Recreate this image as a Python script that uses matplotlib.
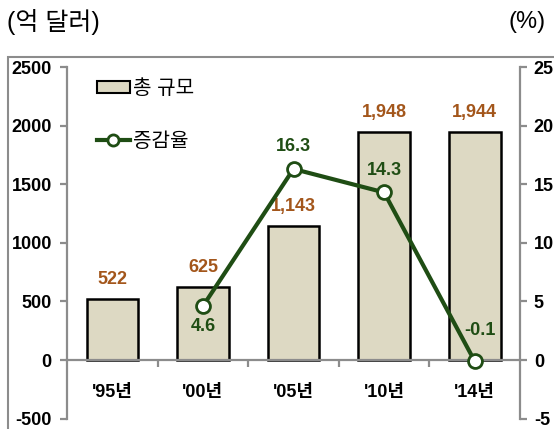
import numpy as np
import matplotlib
matplotlib.use('Agg')
import matplotlib.pyplot as plt
from matplotlib.patches import Rectangle
from matplotlib.lines import Line2D

plt.rcParams['font.family'] = ['Liberation Sans', 'Noto Sans CJK KR']
plt.rcParams['axes.unicode_minus'] = False

years = ["'95년", "'00년", "'05년", "'10년", "'14년"]
total = [522, 625, 1143, 1948, 1944]
total_labels = ['522', '625', '1,143', '1,948', '1,944']
growth_x = [1, 2, 3, 4]
growth = [4.6, 16.3, 14.3, -0.1]

bar_color = '#ddd9c3'
label_brown = '#a3561b'
green = '#1f4d14'
gray = '#8c8c8c'

fig = plt.figure(figsize=(5.54, 4.29), dpi=100)
ax = fig.add_axes([0.121, 0.0242, 0.8176, 0.8196])
ax2 = ax.twinx()

x = np.arange(len(years))
ax.bar(x, total, width=0.57, color=bar_color, edgecolor='black', linewidth=1.8, zorder=2)
for xi, v, t in zip(x, total, total_labels):
    ax.annotate(t, (xi, v), xytext=(0, 8), textcoords='offset points',
                ha='center', va='bottom', fontsize=13, fontweight='bold', color=label_brown)

ax.set_xlim(-0.5, 4.5)
ax.set_ylim(-500, 2500)
ax.set_yticks(np.arange(-500, 2501, 500))
ax2.set_ylim(-5, 25)
ax2.set_yticks(np.arange(-5, 26, 5))

# x axis on the zero line
ax.spines['bottom'].set_position(('data', 0))
ax.spines['top'].set_visible(False)
ax.spines['right'].set_visible(False)
ax2.spines['top'].set_visible(False)
ax2.spines['bottom'].set_visible(False)
ax2.spines['left'].set_visible(False)
for sp in [ax.spines['bottom'], ax.spines['left'], ax2.spines['right']]:
    sp.set_color(gray)
    sp.set_linewidth(1.6)

ax.set_xticks(x)
ax.set_xticklabels(years)
ax.set_xticks(np.arange(0.5, 4.0, 1.0), minor=True)
ax.tick_params(axis='x', which='major', length=0, pad=17, labelsize=13)
ax.tick_params(axis='x', which='minor', length=5, width=1.6, color=gray, direction='out')
for lab in ax.get_xticklabels():
    lab.set_fontweight('bold')

ax.tick_params(axis='y', length=5, width=1.6, color=gray, labelsize=13, pad=6)
ax2.tick_params(axis='y', length=5, width=1.6, color=gray, labelsize=13, pad=5)
for lab in ax.get_yticklabels() + ax2.get_yticklabels():
    lab.set_fontweight('bold')

ax2.plot(growth_x, growth, color=green, linewidth=3, marker='o', markersize=10,
         markerfacecolor='white', markeredgecolor=green, markeredgewidth=2, zorder=3)
for xi, v in zip(growth_x, growth):
    off = (0, -15) if v == 4.6 else (0, 16)
    if v < 0:
        off = (4, 22)
    ax2.annotate(f'{v}', (xi, v), xytext=off, textcoords='offset points',
                 ha='center', va='center', fontsize=13, fontweight='bold', color=green)

handles = [Rectangle((0, 0), 1, 1, facecolor=bar_color, edgecolor='black', linewidth=1.5),
           Line2D([0], [0], color=green, linewidth=3, marker='o', markersize=8,
                  markerfacecolor='white', markeredgecolor=green, markeredgewidth=2)]
ax2.legend(handles, ['총 규모', '증감율'], loc='upper left', bbox_to_anchor=(0.027, 1.018),
           frameon=False, fontsize=14.5, labelspacing=1.7, handlelength=1.6,
           handleheight=0.55, handletextpad=0.15)

fig.text(0.012, 0.948, '(억 달러)', fontsize=18, ha='left', va='center')
fig.text(0.985, 0.948, '(%)', fontsize=17, ha='right', va='center')

# outer frame of the chart area
fig.add_artist(Rectangle((0.0144, -0.1), 1.2, 0.967, transform=fig.transFigure,
                         fill=False, edgecolor=gray, linewidth=1.5))

fig.savefig('out.png', dpi=100)
